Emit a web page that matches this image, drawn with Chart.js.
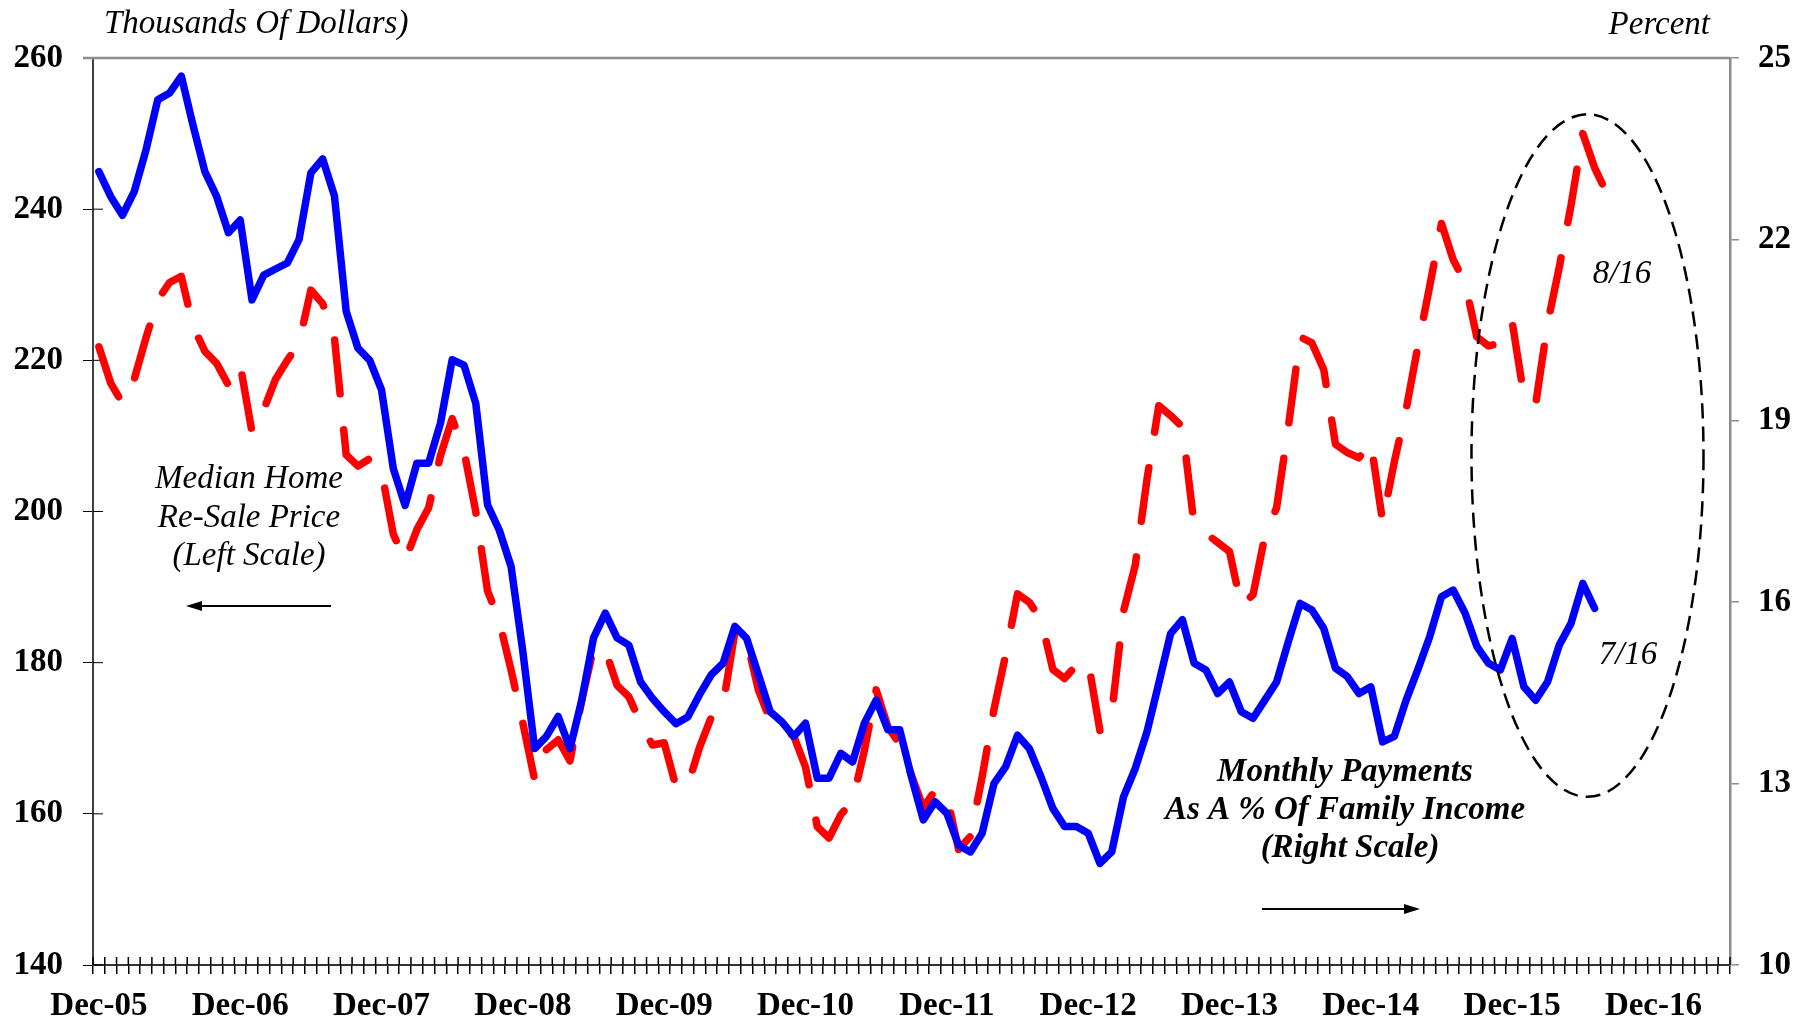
<!DOCTYPE html>
<html>
<head>
<meta charset="utf-8">
<title>Median Home Re-Sale Price vs Monthly Payments</title>
<script src="https://cdn.jsdelivr.net/npm/chart.js@4.4.1/dist/chart.umd.min.js"></script>
<style>
  html, body { margin: 0; padding: 0; background: #fff; }
  #wrap { width: 1809px; height: 1021px; }
</style>
</head>
<body>
<div id="wrap"><canvas id="chart" width="1809" height="1021"></canvas></div>
<script>
const MONTH_NAMES = ['Jan', 'Feb', 'Mar', 'Apr', 'May', 'Jun', 'Jul', 'Aug', 'Sep', 'Oct', 'Nov', 'Dec'];

// one category per month, Dec-05 .. Jun-17
const months = [];
for (let k = 0; k < 139; k++) {
    const m = (11 + k) % 12;
    const y = 2005 + Math.floor((11 + k) / 12);
    months.push(MONTH_NAMES[m] + '-' + String(y % 100).padStart(2, '0'));
}

const yearTicks = ['Dec-05', 'Dec-06', 'Dec-07', 'Dec-08', 'Dec-09', 'Dec-10',
                   'Dec-11', 'Dec-12', 'Dec-13', 'Dec-14', 'Dec-15', 'Dec-16'];
const leftTicks = [140, 160, 180, 200, 220, 240, 260];
const rightTicks = [10, 13, 16, 19, 22, 25];

// Median home re-sale price, thousands of dollars (left scale), Dec-05 .. Aug-16
const medianPrice = [
    221.8, 217.0, 214.3, 217.5, 223.0, 228.0, 230.3, 231.1, 224.5, 221.2,
    219.6, 216.7, 219.4, 210.5, 213.5, 217.5, 220.0, 222.3, 229.3, 227.5,
    223.0, 207.5, 206.0, 207.0, 205.3, 197.0, 193.5, 197.6, 200.5, 207.4,
    212.3, 208.0, 200.0, 189.5, 185.5, 179.0, 172.0, 164.5, 168.5, 169.8,
    167.0, 175.0, 181.9, 181.7, 177.0, 175.5, 172.0, 169.1, 169.4, 163.6,
    163.7, 168.8, 172.8, 174.4, 184.0, 183.0, 176.4, 172.4, 171.3, 170.3,
    166.2, 158.3, 156.8, 159.9, 161.7, 168.4, 176.4, 171.5, 169.2, 165.1,
    160.8, 163.1, 162.4, 155.3, 157.0, 164.9, 173.8, 181.1, 189.1, 188.0,
    185.7, 179.1, 177.9, 179.7, 180.2, 171.0, 173.3, 186.8, 192.9, 204.3,
    214.0, 212.7, 211.2, 198.2, 197.1, 195.9, 194.7, 187.5, 189.0, 196.7,
    200.5, 211.2, 223.1, 222.3, 218.8, 208.9, 207.8, 207.1, 209.2, 198.7,
    206.6, 213.5, 221.9, 229.8, 238.1, 233.3, 230.3, 223.1, 221.9, 222.3,
    225.1, 215.3, 214.2, 224.8, 232.3, 240.5, 250.0, 245.5, 242.2
];

// Monthly payments as a % of family income (right scale), Dec-05 .. Jul-16
const paymentPct = [
    23.12, 22.71, 22.40, 22.79, 23.48, 24.31, 24.42, 24.70, 23.88, 23.12,
    22.71, 22.11, 22.32, 21.00, 21.41, 21.51, 21.61, 22.00, 23.10, 23.33,
    22.72, 20.81, 20.20, 20.00, 19.51, 18.21, 17.60, 18.30, 18.30, 18.96,
    20.01, 19.92, 19.29, 17.61, 17.19, 16.59, 15.18, 13.58, 13.78, 14.11,
    13.58, 14.38, 15.41, 15.82, 15.41, 15.29, 14.68, 14.41, 14.19, 13.99,
    14.10, 14.47, 14.80, 14.99, 15.60, 15.40, 14.80, 14.19, 14.02, 13.78,
    14.00, 13.09, 13.09, 13.50, 13.36, 14.00, 14.38, 13.89, 13.89, 13.11,
    12.40, 12.70, 12.51, 11.98, 11.87, 12.18, 13.00, 13.28, 13.80, 13.58,
    13.11, 12.59, 12.29, 12.29, 12.18, 11.68, 11.87, 12.78, 13.25, 13.86,
    14.66, 15.48, 15.71, 14.99, 14.88, 14.49, 14.68, 14.19, 14.08, 14.38,
    14.68, 15.35, 15.98, 15.87, 15.57, 14.91, 14.77, 14.49, 14.60, 13.69,
    13.78, 14.38, 14.89, 15.43, 16.09, 16.20, 15.82, 15.27, 14.99, 14.88,
    15.40, 14.60, 14.38, 14.68, 15.29, 15.65, 16.31, 15.90
];

// dashed oval round the latest readings, in data units (months / left scale)
const latestOval = { centerMonth: 126.4, centerPrice: 207.4, halfMonths: 9.85, halfPrice: 45.15 };

const SERIF = '"Liberation Serif", "Times New Roman", serif';

function arrow(ctx, x1, x2, y) {
    const dir = x2 > x1 ? 1 : -1;
    ctx.beginPath();
    ctx.moveTo(x1, y);
    ctx.lineTo(x2 - dir * 14, y);
    ctx.stroke();
    ctx.beginPath();
    ctx.moveTo(x2, y);
    ctx.lineTo(x2 - dir * 16, y - 5);
    ctx.lineTo(x2 - dir * 16, y + 5);
    ctx.closePath();
    ctx.fill();
}

const extras = {
    id: 'extras',
    beforeDatasetsDraw(chart) {
        const ctx = chart.ctx;
        const area = chart.chartArea;
        const xs = chart.scales.x;
        const yl = chart.scales.yLeft;
        ctx.save();
        // tick halves that cross into the plot
        ctx.strokeStyle = '#000';
        ctx.lineWidth = 1.5;
        const step = xs.getPixelForValue(1) - xs.getPixelForValue(0);
        const x0 = xs.getPixelForValue(0) - step / 2;
        ctx.beginPath();
        for (let k = 0; k <= months.length; k++) {
            const x = x0 + k * step;
            ctx.moveTo(x, area.bottom);
            ctx.lineTo(x, area.bottom - 8);
        }
        ctx.stroke();
        ctx.lineWidth = 1;
        ctx.beginPath();
        leftTicks.forEach(v => {
            const y = yl.getPixelForValue(v);
            ctx.moveTo(area.left, y);
            ctx.lineTo(area.left + 10, y);
        });
        ctx.stroke();
        // top border
        ctx.strokeStyle = '#8c8c8c';
        ctx.lineWidth = 2.5;
        ctx.beginPath();
        ctx.moveTo(area.left - 10, area.top);
        ctx.lineTo(area.right, area.top);
        ctx.stroke();
        ctx.restore();
    },
    afterDatasetsDraw(chart) {
        const ctx = chart.ctx;
        const xs = chart.scales.x;
        const yl = chart.scales.yLeft;
        const cx = xs.getPixelForValue(latestOval.centerMonth);
        const cy = yl.getPixelForValue(latestOval.centerPrice);
        const rx = xs.getPixelForValue(latestOval.centerMonth + latestOval.halfMonths) - cx;
        const ry = yl.getPixelForValue(latestOval.centerPrice - latestOval.halfPrice) - cy;
        ctx.save();
        ctx.strokeStyle = '#000';
        ctx.lineWidth = 2.5;
        ctx.setLineDash([15, 8]);
        ctx.beginPath();
        ctx.ellipse(cx, cy, rx, ry, 0, 0, Math.PI * 2);
        ctx.stroke();
        ctx.restore();
    },
    afterDraw(chart) {
        const ctx = chart.ctx;
        ctx.save();
        ctx.fillStyle = '#000';
        ctx.strokeStyle = '#000';
        ctx.textBaseline = 'alphabetic';

        ctx.font = 'italic 33px ' + SERIF;
        ctx.textAlign = 'left';
        ctx.fillText('Thousands Of Dollars)', 104, 33);
        ctx.textAlign = 'right';
        ctx.fillText('Percent', 1710, 34);

        ctx.textAlign = 'center';
        ctx.fillText('Median Home', 249, 488);
        ctx.fillText('Re-Sale Price', 249, 527);
        ctx.fillText('(Left Scale)', 249, 565);
        ctx.fillText('8/16', 1622, 283);
        ctx.fillText('7/16', 1628, 664);

        ctx.font = 'italic bold 33px ' + SERIF;
        ctx.fillText('Monthly Payments', 1345, 781);
        ctx.fillText('As A % Of Family Income', 1345, 819);
        ctx.fillText('(Right Scale)', 1350, 857);

        ctx.lineWidth = 2;
        arrow(ctx, 331, 186, 606);
        arrow(ctx, 1262, 1420, 909);
        ctx.restore();
    }
};

const tickFont = { family: SERIF, size: 33, weight: 'bold' };

new Chart(document.getElementById('chart'), {
    type: 'line',
    data: {
        labels: months,
        datasets: [
            {
                label: 'Monthly Payments As A % Of Family Income',
                data: paymentPct,
                yAxisID: 'yRight',
                borderColor: '#0000ff',
                borderWidth: 7.5,
                borderJoinStyle: 'round',
                borderCapStyle: 'round',
                pointRadius: 0,
                tension: 0
            },
            {
                label: 'Median Home Re-Sale Price',
                data: medianPrice,
                yAxisID: 'yLeft',
                borderColor: '#ff0000',
                borderWidth: 7.5,
                borderDash: [54, 36],
                borderJoinStyle: 'round',
                borderCapStyle: 'round',
                pointRadius: 0,
                tension: 0
            }
        ]
    },
    options: {
        responsive: false,
        animation: false,
        events: [],
        layout: { padding: { top: 58, left: 0, right: 0, bottom: 0 } },
        plugins: { legend: { display: false }, tooltip: { enabled: false } },
        scales: {
            x: {
                type: 'category',
                offset: true,
                grid: { offset: true, drawOnChartArea: false, drawTicks: true, tickLength: 9, color: '#000', lineWidth: 1.5 },
                border: { display: true, color: '#333', width: 2 },
                ticks: {
                    autoSkip: false, maxRotation: 0, minRotation: 0, padding: 13,
                    color: '#000', font: tickFont,
                    callback: (val, idx) => yearTicks.includes(months[idx]) ? months[idx] : ''
                },
                afterFit: s => { s.height = 56; }
            },
            yLeft: {
                position: 'left',
                min: 140, max: 260,
                afterBuildTicks: s => { s.ticks = leftTicks.map(v => ({ value: v })); },
                grid: { drawOnChartArea: false, tickLength: 10, color: '#000', lineWidth: 1 },
                border: { color: '#404040', width: 2 },
                ticks: { padding: 20, color: '#000', font: tickFont },
                afterFit: s => { s.width = 93; }
            },
            yRight: {
                position: 'right',
                min: 10, max: 25,
                afterBuildTicks: s => { s.ticks = rightTicks.map(v => ({ value: v })); },
                grid: { drawOnChartArea: false, tickLength: 9, color: '#8c8c8c', lineWidth: 1.5 },
                border: { color: '#8c8c8c', width: 2.5 },
                ticks: { padding: 19, color: '#000', font: tickFont },
                afterFit: s => { s.width = 79; }
            }
        }
    },
    plugins: [extras]
});
</script>
</body>
</html>
